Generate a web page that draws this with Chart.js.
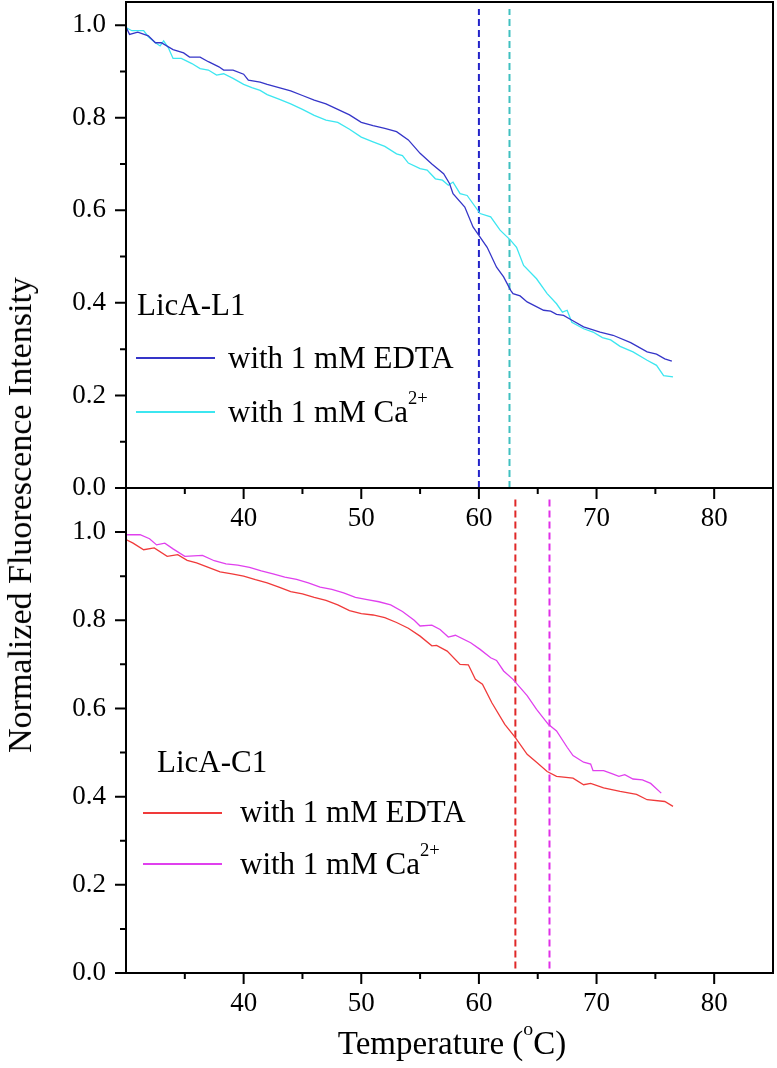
<!DOCTYPE html>
<html>
<head>
<meta charset="utf-8">
<script src="https://cdn.jsdelivr.net/npm/chart.js@4.4.0/dist/chart.umd.min.js"></script>
<style>
  html, body { margin: 0; padding: 0; background: #fff; }
  #wrap { position: relative; width: 777px; height: 1068px; overflow: hidden;
          font-family: 'Liberation Serif', 'Times New Roman', serif; color: #000; }
  .layer { position: absolute; left: 0; top: 0; width: 777px; height: 1068px; }
  .txt { position: absolute; white-space: nowrap; line-height: 1; font-size: 31px; }
  .txt sup { font-size: 0.6em; vertical-align: 0.95em; line-height: 0; }
  .key { position: absolute; height: 1.5px; width: 79px; }
</style>
</head>
<body>
<div id="wrap">
  <div class="layer"><canvas id="bottomChart"></canvas></div>
  <div class="layer"><canvas id="topChart"></canvas></div>

  <div class="txt" style="left:20px; top:515px; font-size:34px; transform:translate(-50%,-50%) rotate(-90deg);">Normalized Fluorescence Intensity</div>
  <div class="txt" style="left:452px; top:1027px; font-size:33px; transform:translateX(-50%);">Temperature (<sup>o</sup>C)</div>

  <div class="txt" style="left:137px; top:289px;">LicA-L1</div>
  <div class="key" style="left:136px; top:357px; background:#3535c8;"></div>
  <div class="txt" style="left:228px; top:342px;">with 1 mM EDTA</div>
  <div class="key" style="left:136px; top:411px; background:#3ce6f0;"></div>
  <div class="txt" style="left:228px; top:396px;">with 1 mM Ca<sup>2+</sup></div>

  <div class="txt" style="left:157px; top:746px;">LicA-C1</div>
  <div class="key" style="left:143px; top:812px; background:#f03a3a;"></div>
  <div class="txt" style="left:240px; top:796px;">with 1 mM EDTA</div>
  <div class="key" style="left:143px; top:863px; background:#e040ee;"></div>
  <div class="txt" style="left:240px; top:848px;">with 1 mM Ca<sup>2+</sup></div>
</div>

<script>
// tick labels
const xTicks = [40, 50, 60, 70, 80];
const xMinor = [35, 45, 55, 65, 75];
const yTicks = [0, 0.2, 0.4, 0.6, 0.8, 1.0];
const yMinor = [0.1, 0.3, 0.5, 0.7, 0.9];

// LicA-L1, 1 mM EDTA
const l1EdtaT = [30.0, 30.3, 31.0, 31.9, 32.5, 33.0, 34.0, 34.9, 35.4, 36.3, 37.0, 37.9, 38.3, 39.1, 40.0, 40.4, 41.4, 42.0, 43.0, 44.0, 45.0, 46.0, 47.0, 48.0, 49.0, 50.0, 51.0, 52.0, 53.0, 54.0, 55.0, 56.0, 57.0, 57.5, 57.8, 58.8, 59.5, 60.1, 60.7, 61.5, 62.1, 62.7, 62.9, 63.5, 64.1, 65.5, 66.1, 66.6, 67.2, 67.8, 68.9, 70.3, 71.4, 72.9, 74.3, 75.1, 75.8, 76.4];
const l1EdtaF = [0.996, 0.980, 0.985, 0.977, 0.962, 0.962, 0.947, 0.940, 0.931, 0.931, 0.921, 0.910, 0.903, 0.903, 0.894, 0.881, 0.877, 0.872, 0.865, 0.858, 0.848, 0.838, 0.830, 0.818, 0.806, 0.790, 0.783, 0.777, 0.770, 0.752, 0.723, 0.700, 0.679, 0.658, 0.636, 0.607, 0.564, 0.542, 0.520, 0.477, 0.456, 0.427, 0.420, 0.415, 0.402, 0.384, 0.382, 0.375, 0.373, 0.364, 0.348, 0.337, 0.330, 0.314, 0.294, 0.289, 0.279, 0.274];

// LicA-L1, 1 mM Ca2+
const l1CaT = [30.0, 30.5, 31.5, 31.9, 32.5, 32.9, 33.2, 33.6, 34.0, 34.7, 35.6, 36.3, 37.0, 37.7, 38.3, 39.1, 40.0, 40.7, 41.4, 42.0, 43.0, 44.0, 45.0, 46.0, 47.0, 48.0, 49.0, 50.0, 51.0, 52.0, 53.0, 53.5, 54.0, 55.0, 55.6, 56.3, 56.9, 57.4, 57.8, 58.4, 59.0, 60.1, 61.0, 61.8, 62.7, 63.2, 63.8, 64.9, 65.8, 66.6, 67.1, 67.5, 67.9, 68.9, 69.7, 70.5, 71.2, 72.0, 73.1, 74.3, 75.1, 75.7, 76.5];
const l1CaF = [0.995, 0.988, 0.988, 0.975, 0.962, 0.955, 0.966, 0.951, 0.928, 0.928, 0.917, 0.906, 0.903, 0.892, 0.895, 0.885, 0.872, 0.865, 0.859, 0.850, 0.840, 0.830, 0.818, 0.805, 0.795, 0.790, 0.775, 0.758, 0.748, 0.738, 0.722, 0.718, 0.702, 0.690, 0.687, 0.668, 0.665, 0.654, 0.661, 0.636, 0.632, 0.593, 0.586, 0.557, 0.535, 0.520, 0.481, 0.452, 0.420, 0.398, 0.380, 0.384, 0.358, 0.344, 0.337, 0.325, 0.320, 0.306, 0.294, 0.276, 0.265, 0.243, 0.240];

// LicA-C1, 1 mM EDTA
const c1EdtaT = [30.0, 30.6, 31.5, 32.4, 33.5, 34.4, 35.2, 36.0, 37.0, 38.0, 39.0, 40.0, 41.0, 42.0, 43.0, 44.0, 45.0, 46.0, 47.0, 48.0, 49.0, 50.0, 51.0, 52.0, 53.0, 54.0, 55.0, 56.0, 56.4, 57.3, 58.4, 59.1, 59.7, 60.3, 61.1, 62.2, 63.1, 64.1, 64.9, 65.8, 66.6, 68.0, 68.9, 69.5, 70.6, 72.0, 73.4, 74.3, 75.8, 76.5];
const c1EdtaF = [0.983, 0.975, 0.960, 0.964, 0.945, 0.949, 0.936, 0.930, 0.920, 0.910, 0.905, 0.900, 0.892, 0.885, 0.875, 0.865, 0.860, 0.852, 0.845, 0.835, 0.822, 0.815, 0.812, 0.806, 0.795, 0.782, 0.764, 0.742, 0.743, 0.730, 0.700, 0.699, 0.666, 0.655, 0.613, 0.564, 0.534, 0.496, 0.478, 0.457, 0.446, 0.442, 0.427, 0.430, 0.420, 0.412, 0.405, 0.393, 0.389, 0.378];

// LicA-C1, 1 mM Ca2+
const c1CaT = [30.0, 31.2, 32.0, 32.6, 33.3, 34.0, 35.0, 36.5, 37.5, 38.5, 39.5, 40.5, 41.5, 42.5, 43.5, 44.5, 45.5, 46.5, 47.5, 48.5, 49.5, 50.5, 51.5, 52.5, 53.5, 54.5, 55.0, 56.0, 56.7, 57.4, 58.0, 59.3, 60.1, 61.0, 61.5, 62.1, 62.9, 64.1, 64.9, 65.9, 66.6, 67.5, 68.0, 68.9, 69.5, 69.7, 70.6, 71.3, 71.9, 72.4, 73.1, 73.9, 74.6, 75.5];
const c1CaF = [0.994, 0.994, 0.985, 0.971, 0.975, 0.962, 0.945, 0.947, 0.935, 0.928, 0.925, 0.920, 0.912, 0.905, 0.898, 0.893, 0.885, 0.875, 0.870, 0.862, 0.852, 0.847, 0.842, 0.835, 0.820, 0.800, 0.787, 0.789, 0.779, 0.762, 0.766, 0.749, 0.734, 0.715, 0.709, 0.685, 0.666, 0.629, 0.598, 0.564, 0.549, 0.512, 0.493, 0.478, 0.474, 0.459, 0.459, 0.452, 0.446, 0.450, 0.440, 0.438, 0.430, 0.408];

// melting temperatures (dashed markers) and their vertical span
const l1Tm = [60.0, 62.6];
const c1Tm = [63.1, 66.0];
const l1TmSpan = [0, 1.035];
const c1TmSpan = [0.01, 1.08];

const pts = (xs, ys) => xs.map((x, i) => ({ x: x, y: ys[i] }));
const vline = (t, span) => span.map(v => ({ x: t, y: v }));

function curve(data, color) {
  return { data: data, borderColor: color, borderWidth: 1.3, pointRadius: 0, tension: 0, fill: false };
}
function marker(data, color) {
  return { data: data, borderColor: color, borderWidth: 2, borderDash: [7, 4], pointRadius: 0, fill: false };
}

// frame plus major / minor tick marks
const frameTicks = {
  id: 'frameTicks',
  afterDraw(chart) {
    const { ctx, chartArea: a, scales: { x, y } } = chart;
    ctx.save();
    ctx.strokeStyle = '#000';
    ctx.lineWidth = 2;
    ctx.strokeRect(a.left, a.top, a.right - a.left, a.bottom - a.top);
    ctx.beginPath();
    xTicks.forEach(v => { const p = x.getPixelForValue(v); ctx.moveTo(p, a.bottom); ctx.lineTo(p, a.bottom + 11); });
    xMinor.forEach(v => { const p = x.getPixelForValue(v); ctx.moveTo(p, a.bottom); ctx.lineTo(p, a.bottom + 6); });
    yTicks.forEach(v => { const p = y.getPixelForValue(v); ctx.moveTo(a.left, p); ctx.lineTo(a.left - 11, p); });
    yMinor.forEach(v => { const p = y.getPixelForValue(v); ctx.moveTo(a.left, p); ctx.lineTo(a.left - 6, p); });
    ctx.stroke();
    ctx.restore();
  }
};

function panelOptions(yMax, padTop, xHeight) {
  const font = { family: "'Liberation Serif', 'Times New Roman', serif", size: 27 };
  return {
    responsive: true,
    maintainAspectRatio: false,
    animation: false,
    layout: { padding: { top: padTop, right: 4, left: 0, bottom: 0 } },
    plugins: { legend: { display: false }, tooltip: { enabled: false } },
    scales: {
      x: {
        type: 'linear', min: 30, max: 85,
        grid: { display: false, drawTicks: false },
        border: { display: false },
        afterBuildTicks: s => { s.ticks = xTicks.map(v => ({ value: v })); },
        afterFit: s => { s.height = xHeight; s.paddingLeft = 0; s.paddingRight = 0; },
        ticks: { color: '#000', font: font, padding: 15, maxRotation: 0, callback: v => String(v) }
      },
      y: {
        type: 'linear', min: 0, max: yMax,
        grid: { display: false, drawTicks: false },
        border: { display: false },
        afterBuildTicks: s => { s.ticks = yTicks.map(v => ({ value: v })); },
        afterFit: s => { s.width = 126; s.paddingTop = 0; s.paddingBottom = 0; },
        ticks: { color: '#000', font: font, padding: 20, callback: v => v.toFixed(1) }
      }
    }
  };
}

new Chart(document.getElementById('topChart'), {
  type: 'line',
  data: {
    datasets: [
      curve(pts(l1EdtaT, l1EdtaF), '#3535c8'),
      curve(pts(l1CaT, l1CaF), '#3ce6f0'),
      marker(vline(l1Tm[0], l1TmSpan), '#2323c8'),
      marker(vline(l1Tm[1], l1TmSpan), '#40c0c0')
    ]
  },
  options: panelOptions(1.05, 2, 1068 - 488),
  plugins: [frameTicks]
});

new Chart(document.getElementById('bottomChart'), {
  type: 'line',
  data: {
    datasets: [
      curve(pts(c1EdtaT, c1EdtaF), '#f03a3a'),
      curve(pts(c1CaT, c1CaF), '#e040ee'),
      marker(vline(c1Tm[0], c1TmSpan), '#e02828'),
      marker(vline(c1Tm[1], c1TmSpan), '#e030e8')
    ]
  },
  options: panelOptions(1.1, 488, 1068 - 973),
  plugins: [frameTicks]
});
</script>
</body>
</html>
